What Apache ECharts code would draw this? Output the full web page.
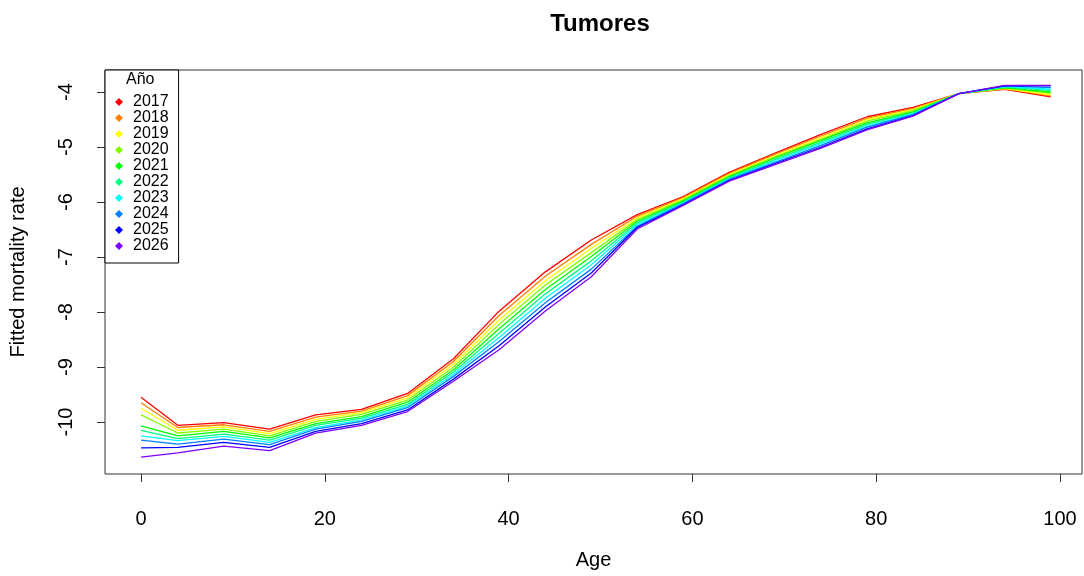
<!DOCTYPE html>
<html>
<head>
<meta charset="utf-8">
<title>Tumores</title>
<script src="https://cdn.jsdelivr.net/npm/echarts@6/dist/echarts.min.js"></script>
<style>
  html, body { margin: 0; padding: 0; background: #ffffff; }
  #chart { width: 1084px; height: 576px; }
</style>
</head>
<body>
<div id="chart"></div>
<script>
// Ages at which the fitted log mortality rate is evaluated
const ages = [0, 4, 9, 14, 19, 24, 29, 34, 39, 44, 49, 54, 59, 64, 69, 74, 79, 84, 89, 94, 99];

// Projection years (one line per year)
const years = ['2017', '2018', '2019', '2020', '2021', '2022', '2023', '2024', '2025', '2026'];

// Fitted log mortality rate by age, one array per year
const rate2017 = [-9.55, -10.06, -10.01, -10.13, -9.87, -9.77, -9.48, -8.85, -7.98, -7.27, -6.69, -6.23, -5.90, -5.46, -5.11, -4.77, -4.45, -4.28, -4.03, -3.95, -4.09];
const rate2018 = [-9.65, -10.10, -10.05, -10.17, -9.91, -9.80, -9.52, -8.90, -8.06, -7.35, -6.77, -6.26, -5.92, -5.48, -5.13, -4.80, -4.48, -4.30, -4.03, -3.94, -4.07];
const rate2019 = [-9.75, -10.15, -10.09, -10.21, -9.95, -9.83, -9.56, -8.95, -8.14, -7.43, -6.84, -6.29, -5.94, -5.50, -5.16, -4.83, -4.50, -4.32, -4.03, -3.94, -4.05];
const rate2020 = [-9.87, -10.20, -10.13, -10.25, -9.99, -9.86, -9.60, -9.00, -8.22, -7.51, -6.92, -6.32, -5.96, -5.52, -5.18, -4.86, -4.53, -4.34, -4.03, -3.93, -4.02];
const rate2021 = [-10.07, -10.25, -10.17, -10.29, -10.03, -9.90, -9.64, -9.05, -8.30, -7.59, -6.99, -6.35, -5.98, -5.54, -5.20, -4.88, -4.56, -4.36, -4.03, -3.92, -4.00];
const rate2022 = [-10.15, -10.30, -10.22, -10.33, -10.06, -9.93, -9.68, -9.09, -8.38, -7.67, -7.07, -6.38, -6.00, -5.56, -5.23, -4.91, -4.59, -4.38, -4.03, -3.91, -3.97];
const rate2023 = [-10.25, -10.34, -10.26, -10.37, -10.10, -9.96, -9.71, -9.13, -8.46, -7.75, -7.14, -6.41, -6.02, -5.58, -5.25, -4.94, -4.62, -4.40, -4.03, -3.90, -3.95];
const rate2024 = [-10.33, -10.40, -10.31, -10.41, -10.13, -9.99, -9.74, -9.17, -8.53, -7.83, -7.22, -6.44, -6.03, -5.59, -5.28, -4.97, -4.64, -4.41, -4.03, -3.89, -3.92];
const rate2025 = [-10.47, -10.46, -10.37, -10.46, -10.17, -10.03, -9.78, -9.22, -8.61, -7.91, -7.29, -6.46, -6.05, -5.61, -5.30, -5.00, -4.67, -4.43, -4.03, -3.89, -3.89];
const rate2026 = [-10.64, -10.56, -10.44, -10.52, -10.20, -10.06, -9.81, -9.26, -8.68, -7.98, -7.36, -6.49, -6.06, -5.62, -5.32, -5.02, -4.69, -4.44, -4.03, -3.88, -3.88];

const rates = [rate2017, rate2018, rate2019, rate2020, rate2021, rate2022, rate2023, rate2024, rate2025, rate2026];

// Tick labels
const xTicks = [0, 20, 40, 60, 80, 100];
const yTicks = [-10, -9, -8, -7, -6, -5, -4];

// Rainbow palette, one hue per year
const palette = ['#FF0000', '#FF8000', '#FFFF00', '#80FF00', '#00FF00', '#00FF80', '#00FFFF', '#0080FF', '#0000FF', '#8000FF'];

const FONT = 'Liberation Sans, Arial, sans-serif';

const series = years.map((yr, i) => ({
  name: yr,
  type: 'line',
  data: ages.map((a, j) => [a, rates[i][j]]),
  symbol: 'none',
  lineStyle: { width: 1.3, color: palette[i] },
  itemStyle: { color: palette[i] },
  emphasis: { disabled: true },
  animation: false
}));

const chart = echarts.init(document.getElementById('chart'), null, { renderer: 'canvas' });

chart.setOption({
  backgroundColor: '#ffffff',
  animation: false,
  title: {
    text: 'Tumores',
    left: 595,
    top: 7,
    textAlign: 'center',
    textStyle: { fontFamily: FONT, fontSize: 24, fontWeight: 'bold', color: '#000' }
  },
  grid: {
    left: 105, top: 70, width: 977, height: 404,
    outerBoundsMode: 'none',
    containLabel: false,
    show: true, borderColor: '#333', borderWidth: 1, backgroundColor: 'transparent'
  },
  xAxis: {
    type: 'value',
    min: -3.92, max: 102.4,
    name: 'Age',
    nameLocation: 'middle',
    nameGap: 76,
    nameTextStyle: { fontFamily: FONT, fontSize: 20, color: '#000' },
    axisLine: { show: false, onZero: false },
    axisTick: { show: true, length: 8, customValues: xTicks, lineStyle: { color: '#333' } },
    axisLabel: { customValues: xTicks, margin: 35, fontFamily: FONT, fontSize: 20, color: '#000' },
    splitLine: { show: false }
  },
  yAxis: {
    type: 'value',
    min: -10.945, max: -3.6,
    name: 'Fitted mortality rate',
    nameLocation: 'middle',
    nameRotate: 90,
    nameGap: 77,
    nameTextStyle: { fontFamily: FONT, fontSize: 20, color: '#000' },
    axisLine: { show: false, onZero: false },
    axisTick: { show: true, length: 8, customValues: yTicks, lineStyle: { color: '#333' } },
    axisLabel: { customValues: yTicks, rotate: 90, margin: 29, fontFamily: FONT, fontSize: 20, color: '#000' },
    splitLine: { show: false }
  },
  legend: {
    orient: 'vertical',
    left: 105, top: 70,
    padding: [24, 10, 9, 10],
    borderColor: '#000', borderWidth: 1,
    backgroundColor: '#fff',
    icon: 'diamond',
    itemWidth: 8, itemHeight: 8,
    itemGap: 0,
    selectedMode: false,
    data: years,
    textStyle: { fontFamily: FONT, fontSize: 16, lineHeight: 15.7, color: '#000', padding: [0, 0, 0, 5] }
  },
  graphic: [{
    type: 'text',
    left: 126, top: 72,
    style: { text: 'Año', font: '16px ' + FONT, fill: '#000' },
    z: 100
  }],
  series: series
});
</script>
</body>
</html>
